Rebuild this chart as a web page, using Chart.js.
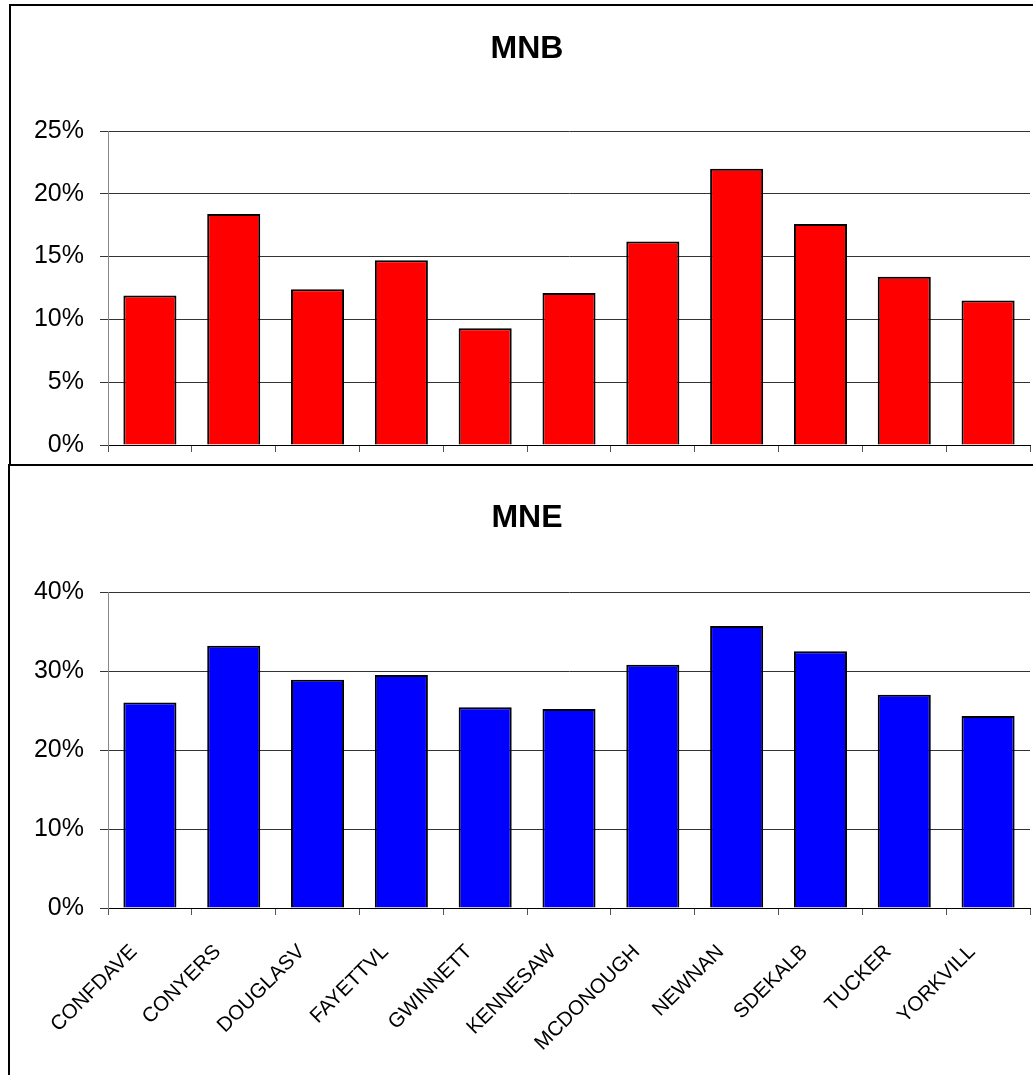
<!DOCTYPE html>
<html>
<head>
<meta charset="utf-8">
<script src="https://cdn.jsdelivr.net/npm/chart.js@4.4.1/dist/chart.umd.min.js"></script>
<style>
  html, body { margin: 0; padding: 0; background: #fff; overflow: hidden; }
  body { width: 1033px; height: 1075px; position: relative; font-family: "Liberation Sans", Arial, sans-serif; }
  .box { position: absolute; border: 2px solid #000; box-sizing: border-box; }
  #box1 { left: 9px; top: 4px; width: 1100px; height: 462px; }
  #box2 { left: 8px; top: 464px; width: 1100px; height: 700px; }
  canvas { position: absolute; left: 0; }
  #c1 { top: 0; }
  #c2 { top: 466px; }
  .title { position: absolute; left: 377px; width: 300px; text-align: center; font-weight: bold; font-size: 32px; line-height: 32px; color: #000; }
  #t1 { top: 31px; }
  #t2 { top: 500px; }
</style>
</head>
<body>
<div class="box" id="box1"></div>
<div class="box" id="box2"></div>
<canvas id="c1" width="1033" height="476"></canvas>
<canvas id="c2" width="1033" height="609"></canvas>
<div class="title" id="t1">MNB</div>
<div class="title" id="t2">MNE</div>
<script>
// Facilities along the x axis
const categories = ['CONFDAVE', 'CONYERS', 'DOUGLASV', 'FAYETTVL', 'GWINNETT', 'KENNESAW',
                    'MCDONOUGH', 'NEWNAN', 'SDEKALB', 'TUCKER', 'YORKVILL'];
// Percent values per facility
const mnbValues = [11.9, 18.4, 12.4, 14.7, 9.3, 12.1, 16.2, 22.0, 17.6, 13.4, 11.5];
const mneValues = [26.0, 33.2, 28.9, 29.5, 25.4, 25.2, 30.8, 35.7, 32.5, 27.0, 24.3];
// Value axis ranges
const mnbAxis = { max: 25, step: 5 };
const mneAxis = { max: 40, step: 10 };

const FONT = '"Liberation Sans", Arial, sans-serif';

function makeChart(id, values, color, axis, layout) {
  return new Chart(document.getElementById(id), {
    type: 'bar',
    data: {
      labels: categories,
      datasets: [{
        data: values,
        backgroundColor: color,
        borderColor: '#000',
        borderWidth: 2,
        categoryPercentage: 1,
        barPercentage: 0.633
      }]
    },
    options: {
      responsive: false,
      animation: false,
      devicePixelRatio: 1,
      layout: { padding: layout.padding },
      plugins: { legend: { display: false }, tooltip: { enabled: false }, title: { display: false } },
      scales: {
        x: {
          offset: true,
          grid: { display: true, offset: true, drawOnChartArea: false, drawTicks: true, tickLength: 7, color: '#555', lineWidth: 1 },
          border: { display: true, color: '#000', width: 1 },
          ticks: {
            autoSkip: false,
            minRotation: 45,
            maxRotation: 45,
            padding: 25,
            labelOffset: -16,
            color: '#000',
            font: { family: FONT, size: 20.5 },
            // the upper panel shares the categories but shows no names
            callback: function (v) { return layout.showLabels ? this.getLabelForValue(v) : ''; }
          },
          afterFit: s => { s.height = layout.xHeight; }
        },
        y: {
          min: 0,
          max: axis.max,
          grid: { color: '#333', lineWidth: 1, drawTicks: true, tickLength: 8 },
          border: { display: true, color: '#888', width: 1 },
          ticks: {
            stepSize: axis.step,
            padding: 16,
            color: '#000',
            font: { family: FONT, size: 25 },
            callback: v => v + '%'
          },
          afterFit: s => { s.width = 108; }
        }
      }
    }
  });
}

makeChart('c1', mnbValues, '#FF0000', mnbAxis,
  { padding: { top: 131, left: 0, right: 3, bottom: 0 }, xHeight: 19, showLabels: false });
makeChart('c2', mneValues, '#0000FF', mneAxis,
  { padding: { top: 126, left: 0, right: 3, bottom: 0 }, xHeight: 167, showLabels: true });
</script>
</body>
</html>
